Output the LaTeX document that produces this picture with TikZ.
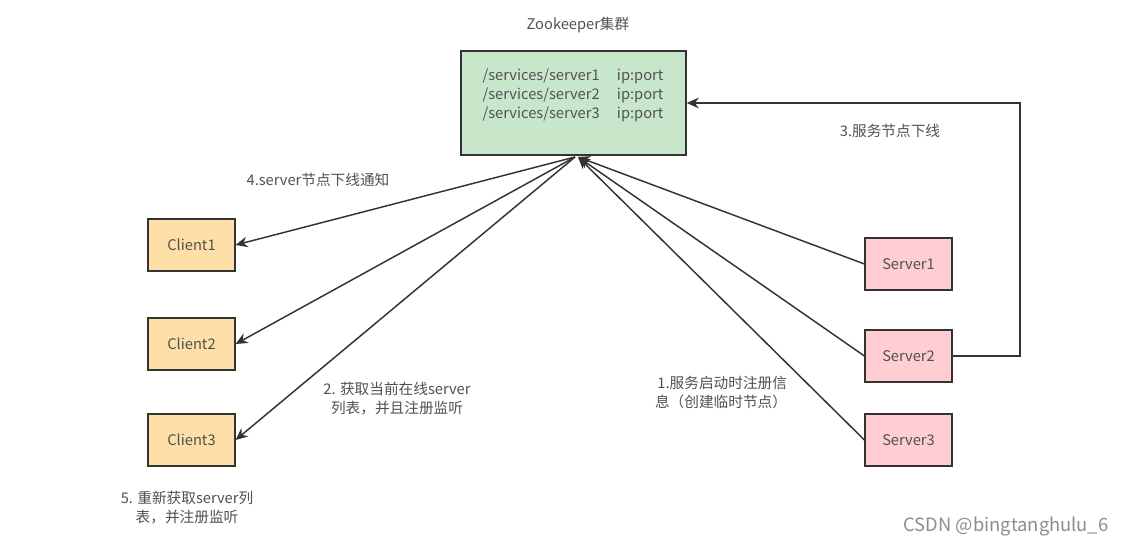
\documentclass[tikz,border=0pt]{standalone}
\usepackage{fontspec}
\setmainfont{Noto Sans CJK SC}
\usepackage{xcolor}
\usetikzlibrary{arrows.meta, positioning, calc}
\definecolor{zkFill}{HTML}{C8E6C9}
\definecolor{cliFill}{HTML}{FFDFA8}
\definecolor{srvFill}{HTML}{FFCDD2}
\definecolor{lineCol}{HTML}{333333}
\definecolor{txtCol}{HTML}{505050}

\begin{document}
\begin{tikzpicture}[x=0.75pt, y=-0.75pt,
  every node/.style={font=\fontsize{11}{14.25}\selectfont, text=txtCol},
  boxbase/.style={draw=lineCol, line width=1.1pt, rectangle, minimum width=65pt, minimum height=39pt},
  client/.style={boxbase, fill=cliFill},
  server/.style={boxbase, fill=srvFill},
  conn/.style={draw=lineCol, line width=1.1pt, -{Stealth[length=9pt, width=8pt]}},
  lbl/.style={align=center}]
\useasboundingbox (0,0) rectangle (1123,545);

% zookeeper cluster
\node (zktitle) at (578,25) {Zookeeper集群};
\node[draw=lineCol, line width=1.1pt, fill=zkFill, minimum width=168.75pt, minimum height=78pt] (zk) at (573.5,103) {};
\node[text=lineCol!85] (zkdata) at (573,96) {\begin{tabular}{@{}l@{\hspace{13pt}}l@{}}
/services/server1 & ip:port\\[0pt]
/services/server2 & ip:port\\[0pt]
/services/server3 & ip:port
\end{tabular}};
\coordinate (zkin) at (578,157);
\coordinate (zkout) at (575,157);
\coordinate (loop) at (1020,103);

% clients and servers
\foreach \i/\y in {1/245,2/344,3/440}{
  \node[client] (cli\i) at (191.5,\y) {Client\i};
}
\foreach \i/\y in {1/264,2/356,3/440}{
  \node[server] (srv\i) at (908.5,\y) {Server\i};
}

% register
\foreach \i in {1,2,3}{
  \draw[conn] (srv\i.west) -- (zkin);
}
% notify / fetch
\foreach \i in {1,2,3}{
  \draw[conn] (zkout) -- (cli\i.east);
}
% offline
\draw[conn] (srv2.east) -| (loop) -- (zk.east);

% labels
\node[lbl] (l4) at (318,180) {4.server节点下线通知};
\node[lbl] (l3) at (890,131) {3.服务节点下线};
\node[lbl] (l2) at (397,398.5) {2. 获取当前在线server\\列表，并且注册监听};
\node[align=left] (l1) at (721,392.5) {\,1.服务启动时注册信\\息（创建临时节点）};
\node[lbl] (l5) at (187,508) {5. 重新获取server列\\表，并注册监听};
\node[font=\fontsize{13.75}{15}\selectfont, text=black!45] (wm) at (1006,526) {CSDN @bingtanghulu\_6};
\end{tikzpicture}
\end{document}
